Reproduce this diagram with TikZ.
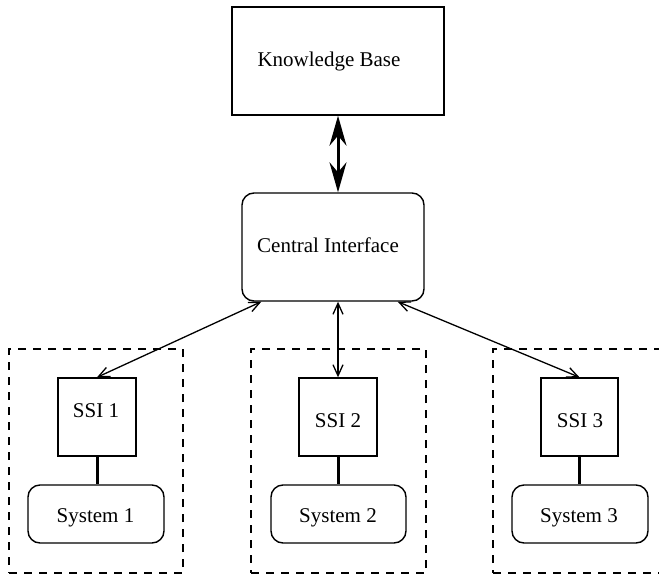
\documentclass[tikz,border=0pt]{standalone}
\usepackage{fontspec}
\setmainfont{Liberation Serif}
\usetikzlibrary{arrows.meta,calc}
\begin{document}
\begin{tikzpicture}[x=1pt,y=-1pt,
  lbl/.style={font=\fontsize{21}{25}\selectfont,inner sep=0pt},
  sqbox/.style={draw,line width=1.4pt,inner sep=0pt},
  rbox/.style={draw,line width=1.4pt,inner sep=0pt,rounded corners=12pt},
  group/.style={draw,line width=1.4pt,dash pattern=on 8pt off 7pt,inner sep=0pt},
  thinarrow/.style={line width=1.3pt,{Straight Barb[length=11pt,width=10pt]}-{Straight Barb[length=11pt,width=10pt]}},
  thickarrow/.style={line width=3pt,{Stealth[length=30pt,width=17pt,inset=10pt]}-{Stealth[length=30pt,width=17pt,inset=10pt]}},
  link/.style={line width=3pt}]
\useasboundingbox (0,0) rectangle (659,576);
\clip (0,0) rectangle (659,576);

% groups
\node[group,minimum width=174pt,minimum height=224pt] (g1) at (96,461) {};
\node[group,minimum width=175pt,minimum height=224pt] (g2) at (338.5,461) {};
\node[group,minimum width=175pt,minimum height=224pt] (g3) at (580.5,461) {};

% boxes
\node[sqbox,minimum width=212pt,minimum height=108pt] (kb) at (338,61) {};
\node[rbox,minimum width=182pt,minimum height=108pt] (ci) at (333,247) {};
\node[sqbox,minimum width=78pt,minimum height=78pt] (s1) at (97,417) {};
\node[sqbox,minimum width=78pt,minimum height=78pt] (s2) at (338,417) {};
\node[sqbox,minimum width=77pt,minimum height=78pt] (s3) at (579.5,417) {};
\node[rbox,minimum width=136pt,minimum height=58pt] (y1) at (96,514) {};
\node[rbox,minimum width=135pt,minimum height=58pt] (y2) at (338.5,514) {};
\node[rbox,minimum width=136pt,minimum height=58pt] (y3) at (580,514) {};

% texts
\node[lbl] (tkb) at (329,61) {Knowledge Base};
\node[lbl] (tci) at (328,245) {Central Interface};
\node[lbl] (ts1) at (96,411) {SSI 1};
\node[lbl] (ts2) at (338,421) {SSI 2};
\node[lbl] (ts3) at (580,421) {SSI 3};
\node[lbl] (ty1) at (95.5,518) {System 1};
\node[lbl] (ty2) at (338,518) {System 2};
\node[lbl] (ty3) at (579,518) {System 3};

% connectors
\coordinate (cil) at ($(ci.south west)+(20,0)$);
\coordinate (cir) at ($(ci.south east)+(-27,0)$);
\coordinate (cim) at ($(ci.south)+(5,0)$);
\draw[thickarrow] (kb.south) -- (kb.south |- ci.north);
\draw[thinarrow] (cil) -- (s1.north);
\draw[thinarrow] (cim) -- (s2.north);
\draw[thinarrow] (cir) -- (s3.north);
\draw[link] (s1.south) -- (s1.south |- y1.north);
\draw[link] (s2.south) -- (y2.north -| s2.south);
\draw[link] (s3.south) -- (y3.north -| s3.south);
\end{tikzpicture}
\end{document}
